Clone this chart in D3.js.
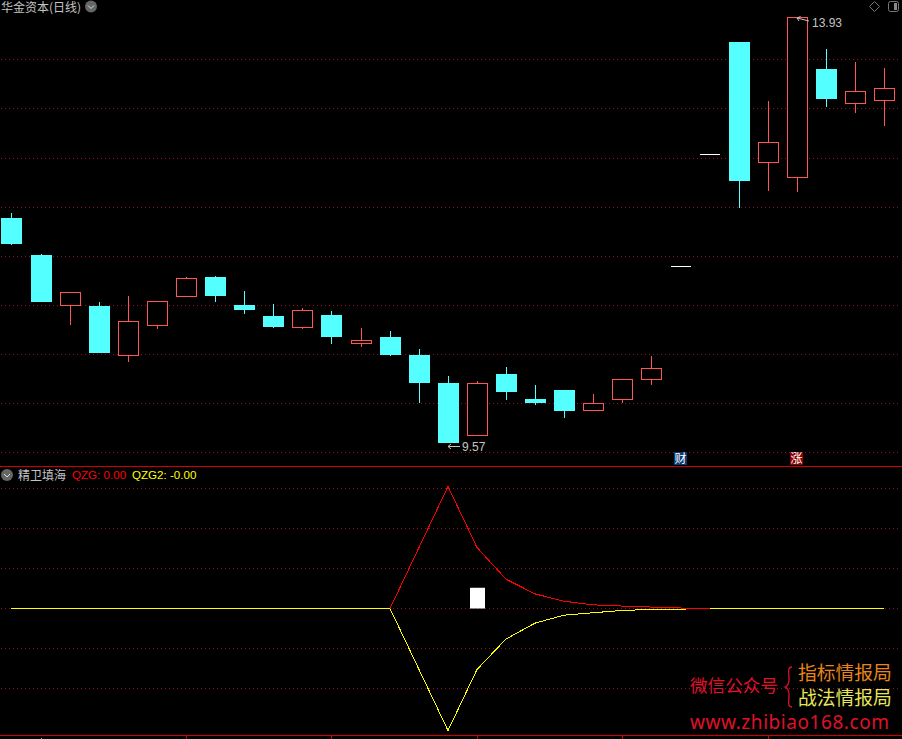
<!DOCTYPE html>
<html>
<head>
<meta charset="utf-8">
<title>华金资本(日线)</title>
<script src="https://cdn.jsdelivr.net/npm/d3@7"></script>
<style>
html, body { margin: 0; padding: 0; background: #000; overflow: hidden; }
svg { display: block; }
text { font-family: "Noto Sans CJK SC", "Liberation Sans", sans-serif; }
</style>
</head>
<body>
<script>
// candle values, one entry per trading day
const opens = [11.87, 11.49, 10.97, 10.97, 10.46, 10.77, 11.06, 11.27, 10.98, 10.87, 10.75, 10.88, 10.58, 10.65, 10.47, 10.18,
	9.64, 10.28, 10.02, 10.11, 9.90, 10.01, 10.21, 11.38, 12.53, 13.67, 12.44, 12.28, 13.40, 13.04, 13.07];
const closes = [11.61, 11.01, 11.12, 10.49, 10.82, 11.02, 11.26, 11.07, 10.93, 10.76, 10.93, 10.65, 10.62, 10.47, 10.18, 9.57,
	10.18, 10.09, 9.98, 9.90, 9.98, 10.22, 10.34, 11.38, 12.53, 12.25, 12.65, 13.93, 13.09, 13.17, 13.20];
const highs = [11.92, 11.50, 11.12, 11.01, 11.07, 11.02, 11.27, 11.28, 11.13, 10.99, 10.95, 10.92, 10.75, 10.72, 10.53, 10.26,
	10.20, 10.35, 10.16, 10.11, 10.07, 10.22, 10.46, 11.38, 12.53, 13.67, 13.07, 13.93, 13.60, 13.47, 13.41];
const lows = [11.60, 11.01, 10.78, 10.49, 10.40, 10.74, 11.06, 11.01, 10.89, 10.75, 10.74, 10.58, 10.55, 10.46, 9.98, 9.57,
	9.64, 10.01, 9.96, 9.83, 9.90, 9.98, 10.16, 11.38, 12.53, 11.98, 12.15, 12.14, 13.01, 12.95, 12.81];

// indicator values
const qzg = [0, 0, 0, 0, 0, 0, 0, 0, 0, 0, 0, 0, 0, 0, 0.50, 1.00,
	0.50, 0.24, 0.12, 0.06, 0.03, 0.02, 0.012, 0.004, 0, 0, 0, 0, 0, 0, 0];
const qzg2 = [0, 0, 0, 0, 0, 0, 0, 0, 0, 0, 0, 0, 0, 0, -0.50, -1.00,
	-0.50, -0.25, -0.12, -0.055, -0.035, -0.016, -0.008, -0.005, 0, 0, 0, 0, 0, 0, 0];
const blockDay = 16;
const blockValue = 0.17;

const priceGrid = [13.50, 13.00, 12.49, 11.99, 11.48, 10.98, 10.48, 9.98, 9.48];
const indicatorGrid = [0.98, 0.656, 0.328, 0, -0.328, -0.656];
const monthTicks = [1, 6, 11, 16, 21, 26];
const badges = [{day: 23, label: "财", color: "#0a3a74"}, {day: 27, label: "涨", color: "#8c0000"}];

const width = 902;
const height = 739;
const bodyWidth = 21;

const RED = "#ff5555";
const CYAN = "#54ffff";
const GRID = "#96101c";
const LINE = "#d00000";
const TEXT = "#c4c4c4";

const days = d3.range(opens.length);
const x = d3.scalePoint().domain(days).range([11.45, 884.2]);
const y = d3.scaleLinear().domain([9.57, 13.93]).range([443, 17]);
const y2 = d3.scaleLinear().domain([-1, 1]).range([730.5, 486.5]);
const cx = d => Math.round(x(d));
const py = v => Math.round(y(v));

const svg = d3.select("body").append("svg")
	.attr("width", width)
	.attr("height", height);

svg.append("rect")
	.attr("width", width)
	.attr("height", height)
	.attr("fill", "#000");

// dotted grid rows of both panels
const gridRows = priceGrid.map(p => py(p) + 0.5).concat(indicatorGrid.map(v => Math.floor(y2(v)) + 0.5));
svg.append("g").selectAll("line")
	.data(gridRows)
	.join("line")
	.attr("x1", 1)
	.attr("x2", 899)
	.attr("y1", d => d)
	.attr("y2", d => d)
	.attr("stroke", GRID)
	.attr("stroke-dasharray", "1 3");

// panel borders
svg.append("g").selectAll("line")
	.data([466.5, 735.5])
	.join("line")
	.attr("x1", 0)
	.attr("x2", width)
	.attr("y1", d => d)
	.attr("y2", d => d)
	.attr("stroke", LINE);

svg.append("g").selectAll("line")
	.data(monthTicks)
	.join("line")
	.attr("x1", d => cx(d) + 0.5)
	.attr("x2", d => cx(d) + 0.5)
	.attr("y1", (d, i) => i === 0 ? 738 : 736)
	.attr("y2", 739)
	.attr("stroke", (d, i) => i === 0 ? "#999" : LINE);

// candles
const candle = svg.append("g").selectAll("g")
	.data(days)
	.join("g");

const isFlat = d => highs[d] === lows[d];
const isUp = d => closes[d] >= opens[d];
const color = d => isUp(d) ? RED : CYAN;

candle.filter(d => !isFlat(d)).append("line")
	.attr("x1", d => cx(d) + 0.5)
	.attr("x2", d => cx(d) + 0.5)
	.attr("y1", d => py(highs[d]))
	.attr("y2", d => py(lows[d]))
	.attr("stroke", color);

candle.filter(d => !isFlat(d) && !isUp(d)).append("rect")
	.attr("x", d => cx(d) - 10)
	.attr("y", d => py(opens[d]))
	.attr("width", bodyWidth)
	.attr("height", d => py(closes[d]) - py(opens[d]))
	.attr("fill", CYAN);

candle.filter(d => !isFlat(d) && isUp(d)).append("rect")
	.attr("x", d => cx(d) - 9.5)
	.attr("y", d => py(closes[d]) + 0.5)
	.attr("width", bodyWidth - 1)
	.attr("height", d => py(opens[d]) - py(closes[d]) - 1)
	.attr("fill", "#000")
	.attr("stroke", RED);

// one-price days are only a dash
candle.filter(isFlat).append("line")
	.attr("x1", d => cx(d) - 10)
	.attr("x2", d => cx(d) + 10)
	.attr("y1", d => py(closes[d]) + 0.5)
	.attr("y2", d => py(closes[d]) + 0.5)
	.attr("stroke", "#fff");

// high and low markers
const hiDay = d3.maxIndex(highs);
const loDay = d3.minIndex(lows);

svg.append("path")
	.attr("d", `M${cx(loDay) + 12},${py(lows[loDay]) + 3.5}H${cx(loDay)}m3,-2.5l-3,2.5l3,2.5`)
	.attr("fill", "none")
	.attr("stroke", TEXT);

svg.append("text")
	.attr("x", cx(loDay) + 14)
	.attr("y", py(lows[loDay]) + 8)
	.attr("font-size", 12)
	.attr("fill", TEXT)
	.style("font-family", "Liberation Sans")
	.text(lows[loDay].toFixed(2));

svg.append("path")
	.attr("d", `M${cx(hiDay) + 12},${py(highs[hiDay]) + 4}L${cx(hiDay)},${py(highs[hiDay]) + 1}m3.5,-1.5l-3.5,1.5l2,3`)
	.attr("fill", "none")
	.attr("stroke", TEXT);

svg.append("text")
	.attr("x", cx(hiDay) + 15)
	.attr("y", py(highs[hiDay]) + 10)
	.attr("font-size", 12)
	.attr("fill", TEXT)
	.style("font-family", "Liberation Sans")
	.text(highs[hiDay].toFixed(2));

// event badges
const badge = svg.append("g").selectAll("g")
	.data(badges)
	.join("g");

badge.append("rect")
	.attr("x", d => cx(d.day) - 7)
	.attr("y", 452)
	.attr("width", 13)
	.attr("height", 13)
	.attr("fill", d => d.color);

badge.append("text")
	.attr("x", d => cx(d.day) - 0.5)
	.attr("y", 463)
	.attr("text-anchor", "middle")
	.attr("font-size", 12)
	.attr("fill", "#fff")
	.text(d => d.label);

// indicator panel
const indicatorLine = d3.line()
	.x((d, i) => cx(i))
	.y(d => y2(d));

svg.append("rect")
	.attr("x", cx(blockDay) - 7)
	.attr("y", y2(blockValue))
	.attr("width", 15)
	.attr("height", y2(0) - y2(blockValue))
	.attr("fill", "#fff");

svg.append("path")
	.attr("d", indicatorLine(qzg2))
	.attr("fill", "none")
	.attr("stroke", "#ffff00")
	.attr("shape-rendering", "crispEdges");

// red stays visible on top through the tail, but stops where it reaches zero
svg.append("path")
	.attr("d", indicatorLine(qzg.slice(0, 25)))
	.attr("fill", "none")
	.attr("stroke", "#ff0000")
	.attr("shape-rendering", "crispEdges");

// the flat start shows yellow
svg.append("path")
	.attr("d", indicatorLine(qzg2.slice(0, 14)))
	.attr("fill", "none")
	.attr("stroke", "#ffff00")
	.attr("shape-rendering", "crispEdges");

// round grey menu buttons
function menuButton(cxPos, cyPos) {
	svg.append("circle")
		.attr("cx", cxPos)
		.attr("cy", cyPos)
		.attr("r", 6)
		.attr("fill", "#666");
	svg.append("path")
		.attr("d", `M${cxPos - 3},${cyPos - 1}l3,3l3,-3`)
		.attr("fill", "none")
		.attr("stroke", "#ddd");
}
menuButton(91, 6.5);
menuButton(7, 475);

svg.append("text")
	.attr("x", 1)
	.attr("y", 12)
	.attr("font-size", 12)
	.attr("fill", TEXT)
	.text("华金资本(日线)");

svg.append("text")
	.attr("x", 18)
	.attr("y", 480)
	.attr("font-size", 12)
	.attr("fill", TEXT)
	.text("精卫填海");

svg.append("text")
	.attr("x", 72)
	.attr("y", 479)
	.attr("font-size", 11.6)
	.attr("fill", "#ff0000")
	.style("font-family", "Liberation Sans")
	.text("QZG: 0.00");

svg.append("text")
	.attr("x", 132)
	.attr("y", 479)
	.attr("font-size", 11.6)
	.attr("fill", "#ffff00")
	.style("font-family", "Liberation Sans")
	.text("QZG2: -0.00");

// top right icons
svg.append("path")
	.attr("d", "M874.5,1.5l5,5l-5,5l-5,-5z")
	.attr("fill", "none")
	.attr("stroke", "#777");

svg.append("rect")
	.attr("x", 888.5)
	.attr("y", 1.5)
	.attr("width", 10)
	.attr("height", 10)
	.attr("rx", 2)
	.attr("fill", "none")
	.attr("stroke", "#777");

svg.append("rect")
	.attr("x", 894)
	.attr("y", 3)
	.attr("width", 3)
	.attr("height", 7)
	.attr("fill", "#888");

// watermark
svg.append("text")
	.attr("x", 690)
	.attr("y", 692)
	.attr("font-size", 17.6)
	.attr("fill", "#e0102c")
	.text("微信公众号");

svg.append("path")
	.attr("d", "M792,667c-5,0,-3,6,-3,12c0,5,-1,7,-4,8c3,1,4,3,4,8c0,6,-2,12,3,12")
	.attr("fill", "none")
	.attr("stroke", "#e0102c")
	.attr("stroke-width", 1.3);

svg.append("text")
	.attr("x", 798)
	.attr("y", 680)
	.attr("font-size", 18.8)
	.attr("fill", "#e8851a")
	.text("指标情报局");

svg.append("text")
	.attr("x", 798)
	.attr("y", 705)
	.attr("font-size", 18.8)
	.attr("fill", "#e6e65a")
	.text("战法情报局");

svg.append("text")
	.attr("x", 690)
	.attr("y", 729)
	.attr("font-size", 19)
	.attr("fill", "#e0102c")
	.style("font-family", "Noto Sans")
	.attr("textLength", 199)
	.text("www.zhibiao168.com");
</script>
</body>
</html>
